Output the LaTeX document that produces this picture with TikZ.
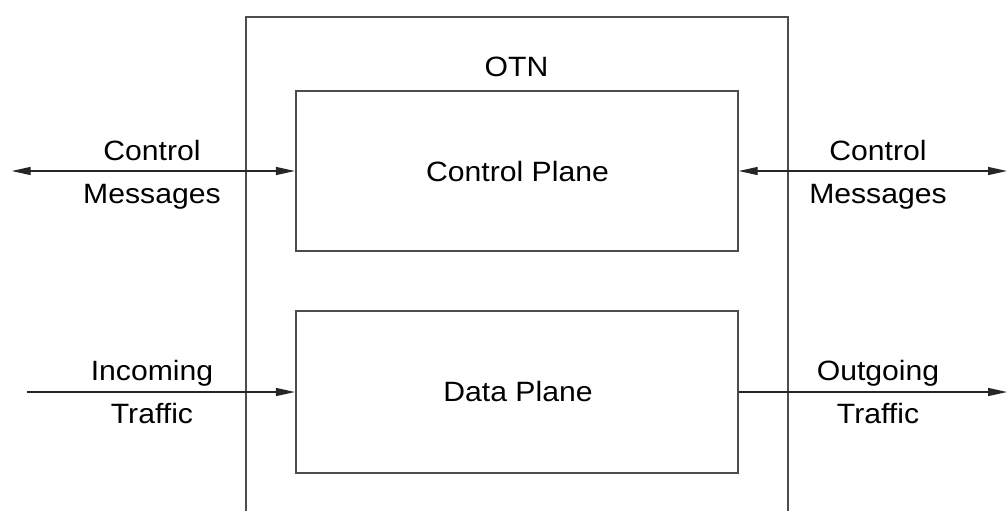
\documentclass[tikz,border=0pt]{standalone}
\usepackage{fontspec}
\setmainfont{Liberation Sans}[FakeStretch=1.08]
\usetikzlibrary{positioning, arrows.meta}

\tikzset{
	plane/.style={draw=black!70, line width=1.1pt, minimum width=8.84cm, inner sep=0pt},
	lbl/.style={font=\fontsize{15.9}{19}\selectfont, inner sep=0pt, anchor=base},
	flow/.style={draw=black!85, line width=0.75pt},
}

\begin{document}
\begin{tikzpicture}[x=0.02cm, y=-0.02cm, >={Triangle[length=0.38cm, width=0.16cm]}]
	\useasboundingbox (0,0) rectangle (1008,511);
	% OTN box, open at the bottom
	\draw[line width=1.1pt, black!70] (245.7,511) -- (245.7,17.3) -- (787.7,17.3) -- (787.7,511);
	\node[lbl] (otn) at (516.5,76) {OTN};
	
	\node[plane, minimum height=3.2cm] (cp) at (516.8,171) {};
	\node[plane, minimum height=3.24cm] (dp) at (516.8,392) {};
	\node[lbl] (cptxt) at (517.5,181.7) {Control Plane};
	\node[lbl] (dptxt) at (518,401.7) {Data Plane};
	
	\coordinate (cmsgin) at (11.7,171);
	\coordinate (cmsgout) at (1007,171);
	\coordinate (trafin) at (26.7,392);
	\coordinate (trafout) at (1007,392);
	
	\draw[flow, <->] (cmsgin) -- (cp.west);
	\draw[flow, <->] (cp.east) -- (cmsgout);
	\draw[flow, ->] (trafin) -- (dp.west);
	\draw[flow, ->] (dp.east) -- (trafout);
	
	\node[lbl] (ctlL) at (152,160.7) {Control};
	\node[lbl] (msgL) at (152,203.3) {Messages};
	\node[lbl] (ctlR) at (878,160.7) {Control};
	\node[lbl] (msgR) at (878,203.3) {Messages};
	\node[lbl] (incL) at (152,380.7) {Incoming};
	\node[lbl] (trfL) at (152,423) {Traffic};
	\node[lbl] (outR) at (878,380.7) {Outgoing};
	\node[lbl] (trfR) at (878,423) {Traffic};
\end{tikzpicture}
\end{document}
